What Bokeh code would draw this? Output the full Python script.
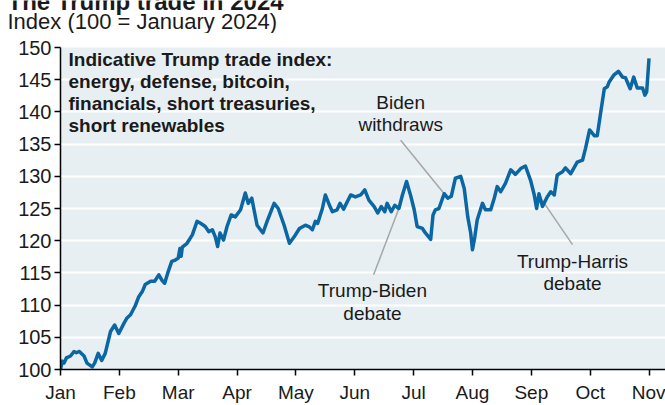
import numpy as np
from bokeh.plotting import figure
from bokeh.layouts import column, row
from bokeh.models import Label, FixedTicker, Range1d
from bokeh.embed import file_html
from bokeh.resources import INLINE
from bokeh.core.properties import value

# ---------------- data ----------------
month_labels = ["Jan", "Feb", "Mar", "Apr", "May", "Jun", "Jul", "Aug", "Sep", "Oct", "Nov"]
month_ticks = [0, 1, 2, 3, 4, 5, 6, 7, 8, 9, 10]
y_ticks = [100, 105, 110, 115, 120, 125, 130, 135, 140, 145, 150]

# position in months since 1 Jan 2024 (0 = Jan, 1 = Feb, ...)
month_pos = [
    0.00, 0.03, 0.06, 0.10, 0.17, 0.23, 0.27, 0.32, 0.40, 0.45, 0.54, 0.58, 0.64, 0.70, 0.76,
    0.85, 0.92, 0.99, 1.08, 1.13, 1.19, 1.27, 1.33, 1.39, 1.44, 1.53, 1.60, 1.67, 1.72, 1.77,
    1.83, 1.89, 1.95, 2.00, 2.03, 2.05, 2.07, 2.15, 2.24, 2.32, 2.38, 2.46, 2.52, 2.58, 2.63,
    2.67, 2.71, 2.77, 2.83, 2.90, 2.97, 3.06, 3.14, 3.19, 3.25, 3.34, 3.44, 3.51, 3.63, 3.70,
    3.80, 3.89, 3.97, 4.06, 4.16, 4.22, 4.28, 4.33, 4.37, 4.45, 4.50, 4.58, 4.62, 4.70, 4.75,
    4.81, 4.93, 5.01, 5.10, 5.17, 5.24, 5.33, 5.39, 5.45, 5.51, 5.55, 5.62, 5.68, 5.75, 5.81,
    5.88, 5.95, 6.01, 6.06, 6.15, 6.20, 6.29, 6.33, 6.37, 6.43, 6.52, 6.58, 6.64, 6.71, 6.80,
    6.86, 6.92, 6.97, 7.00, 7.04, 7.08, 7.17, 7.22, 7.31, 7.37, 7.42, 7.48, 7.56, 7.65, 7.73,
    7.82, 7.90, 7.99, 8.05, 8.09, 8.13, 8.19, 8.27, 8.33, 8.39, 8.44, 8.53, 8.58, 8.67, 8.78,
    8.87, 8.92, 8.99, 9.07, 9.12, 9.18, 9.24, 9.29, 9.32, 9.40, 9.48, 9.55, 9.60, 9.68, 9.74,
    9.80, 9.89, 9.93, 9.96, 10.00,
]
index_values = [
    100.0, 101.3, 101.0, 101.8, 102.1, 102.8, 102.6, 102.8, 102.1, 101.0, 100.4, 101.0, 102.5, 101.4, 102.5,
    105.9, 106.9, 105.6, 107.2, 108.0, 108.5, 109.9, 111.3, 112.1, 113.2, 113.7, 113.7, 114.7, 113.9, 113.4,
    115.2, 116.8, 117.0, 117.3, 118.8, 117.6, 119.0, 119.6, 120.9, 123.0, 122.7, 122.2, 121.4, 121.7, 120.6,
    119.1, 121.2, 120.1, 122.2, 124.0, 123.7, 124.8, 127.4, 125.8, 126.6, 122.4, 121.2, 123.0, 125.8, 125.0,
    122.4, 119.6, 120.6, 121.9, 122.4, 122.2, 121.7, 123.0, 122.7, 125.0, 127.1, 125.3, 124.5, 124.8, 125.8,
    124.9, 127.1, 126.8, 127.1, 127.9, 126.3, 125.3, 124.3, 125.3, 124.5, 125.8, 124.5, 125.5, 125.0, 127.1,
    129.2, 127.0, 124.8, 122.2, 121.9, 121.2, 120.2, 124.0, 124.8, 125.0, 127.3, 126.6, 126.9, 129.7, 130.0,
    128.1, 123.7, 121.2, 118.6, 120.6, 123.2, 125.8, 124.8, 124.8, 126.6, 128.4, 127.6, 128.9, 131.0, 130.3,
    131.2, 131.6, 129.3, 127.1, 125.0, 127.3, 125.3, 126.8, 127.6, 127.1, 130.2, 130.7, 131.3, 130.4, 132.2,
    132.5, 134.3, 137.2, 136.3, 136.3, 140.0, 143.6, 143.9, 144.6, 145.7, 146.3, 145.4, 145.3, 143.6, 145.4,
    143.7, 143.7, 142.6, 143.1, 148.3,
]

# annotations: text lines, text anchor (month, index), leader line ends
annot_lines = ["Biden", "withdraws", "Trump-Biden", "debate", "Trump-Harris", "debate"]
annot_line_x = [5.78, 5.78, 5.30, 5.30, 8.70, 8.70]
annot_line_y = [141.4, 138.1, 112.3, 108.7, 116.7, 113.3]
leader_x0 = [5.78, 5.32, 8.70]
leader_y0 = [135.6, 114.7, 119.4]
leader_x1 = [6.52, 5.75, 8.16]
leader_y1 = [127.3, 125.0, 126.6]

box_lines = [
    "Indicative Trump trade index:",
    "energy, defense, bitcoin,",
    "financials, short treasuries,",
    "short renewables",
]
title_text = "The Trump trade in 2024"
subtitle_text = "Index (100 = January 2024)"

FONT = "Liberation Sans"
TXT = "#1a1a1a"

# ---------------- header strip (title is cut off at the top, as in the source) ----------------
HEAD_H = 33
head = figure(width=665, height=HEAD_H, output_backend="svg", toolbar_location=None,
              title=None, x_range=Range1d(0, 665), y_range=Range1d(0, HEAD_H),
              x_axis_location=None, y_axis_location=None,
              min_border=0, min_border_left=0, min_border_right=0,
              min_border_top=0, min_border_bottom=0)
head.grid.visible = False
head.outline_line_color = None
head.background_fill_color = "white"
head.border_fill_color = "white"
head.text(x=[7], y=[HEAD_H - 0.5], text=[title_text], text_font=value(FONT),
          text_font_size="24px", text_font_style="bold", text_color=TXT,
          text_baseline="alphabetic", text_align="left")
head.text(x=[7], y=[HEAD_H - 21], text=[subtitle_text], text_font=value(FONT),
          text_font_size="22px", text_color=TXT, text_baseline="alphabetic", text_align="left")

# ---------------- main chart ----------------
p = figure(
    width=665, height=405 - HEAD_H, output_backend="svg", toolbar_location=None, title=None,
    x_range=Range1d(0, 10.28), y_range=Range1d(100, 150),
    min_border_left=60, min_border_right=0, min_border_top=47 - HEAD_H, min_border_bottom=35,
)
p.background_fill_color = "#e7eff3"
p.border_fill_color = "white"
p.outline_line_color = None

p.xgrid.grid_line_color = None
p.ygrid.grid_line_color = "white"
p.ygrid.grid_line_width = 2
p.ygrid.ticker = FixedTicker(ticks=y_ticks)

p.xaxis.ticker = FixedTicker(ticks=month_ticks)
p.xaxis.major_label_overrides = {t: lab for t, lab in zip(month_ticks, month_labels)}
p.yaxis.ticker = FixedTicker(ticks=y_ticks)
for ax in (p.xaxis, p.yaxis):
    ax.axis_line_color = "black"
    ax.axis_line_width = 1.5
    ax.major_tick_line_color = "black"
    ax.major_tick_line_width = 1.5
    ax.major_tick_in = 0
    ax.major_tick_out = 6
    ax.minor_tick_line_color = None
    ax.major_label_text_font = FONT
    ax.major_label_text_color = TXT
p.xaxis.major_label_text_font_size = "19px"
p.yaxis.major_label_text_font_size = "20px"
p.xaxis.major_label_standoff = 6
p.yaxis.major_label_standoff = 3

# leader lines
p.segment(x0=leader_x0, y0=leader_y0, x1=leader_x1, y1=leader_y1,
          line_color="#a6a6a6", line_width=1.5)

# main series
p.line(month_pos, index_values, line_color="#0b67a3", line_width=3.5, line_join="round")

# annotation texts
p.text(x=annot_line_x, y=annot_line_y, text=annot_lines,
       text_font=value(FONT), text_font_size="19px", text_color=TXT,
       text_align="center", text_baseline="alphabetic")

# box text (screen units relative to frame: x from frame left, y up from frame bottom)
box_baselines = [310, 288, 266, 244]
for line, yb in zip(box_lines, box_baselines):
    p.add_layout(Label(x=8, y=yb, x_units="screen", y_units="screen", text=line,
                       text_font=FONT, text_font_size="19px", text_font_style="bold",
                       text_color=TXT, text_baseline="alphabetic"))

layout = column(row(head), p, spacing=0)
open("out.html", "w").write(file_html(layout, INLINE))
